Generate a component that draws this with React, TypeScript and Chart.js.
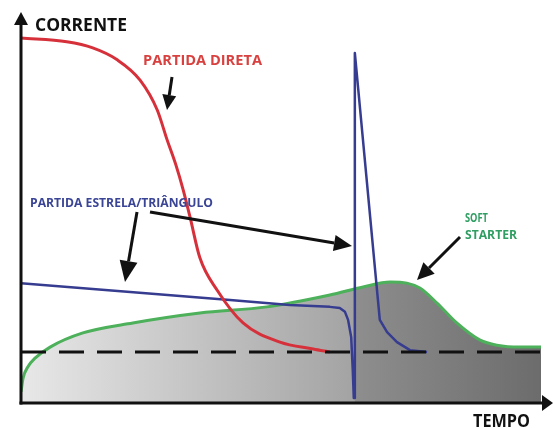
import React, { useEffect, useRef } from "react";
import { Chart, registerables } from "chart.js";

Chart.register(...registerables);

// Partida direta (red)
const redX = [0, 8.8, 13.8, 18.5, 22.9, 26.2, 28.1, 29.8, 31.2, 32.5, 34.4, 37.7, 42.7, 49.8, 56.2, 59.4];
const redY = [95.3, 94.3, 92.7, 89.6, 84.3, 76.5, 68.7, 62.1, 55.6, 48.6, 37.9, 29.5, 20.9, 15.9, 14.1, 13.3];

// Partida estrela/triângulo (blue)
const blueX = [0, 21.0, 40.2, 51.7, 59.4, 61.3, 62.3, 62.9, 63.5, 63.8, 64.0, 64.2, 64.2, 68.1, 68.7, 69.0, 70.4, 72.3, 74.8, 78.1];
const blueY = [31.3, 29.0, 26.9, 25.6, 25.1, 24.8, 23.8, 21.7, 17.2, 8.6, 1.3, 1.3, 91.4, 34.7, 26.1, 21.7, 18.5, 15.9, 13.8, 13.3];

// Soft starter (green)
const greenX = [0, 0.4, 1.3, 2.7, 5.6, 11.9, 21.5, 34.4, 47.3, 59.4, 65.8, 71.0, 74.2, 76.7, 80.0, 83.8, 88.3, 91.5, 96.0, 100];
const greenY = [2.9, 6.5, 9.4, 11.7, 14.6, 18.3, 20.9, 23.5, 25.1, 28.2, 30.3, 31.6, 31.3, 30.0, 26.1, 20.9, 16.4, 15.1, 14.6, 14.6];

// Corrente nominal (dashed)
const nominalX = [0, 100];
const nominalY = [13.3, 13.3];

const pts = (xs: number[], ys: number[]) => xs.map((x, i) => ({ x, y: ys[i] }));

function drawArrow(ctx: CanvasRenderingContext2D, x1: number, y1: number, x2: number, y2: number, len: number, half: number) {
  const ang = Math.atan2(y2 - y1, x2 - x1);
  const bx = x2 - Math.cos(ang) * len;
  const by = y2 - Math.sin(ang) * len;
  ctx.beginPath();
  ctx.moveTo(x1, y1);
  ctx.lineTo(bx, by);
  ctx.stroke();
  ctx.beginPath();
  ctx.moveTo(x2, y2);
  ctx.lineTo(bx + Math.sin(ang) * half, by - Math.cos(ang) * half);
  ctx.lineTo(bx - Math.sin(ang) * half, by + Math.cos(ang) * half);
  ctx.closePath();
  ctx.fill();
}

function fitText(ctx: CanvasRenderingContext2D, text: string, x: number, y: number, width: number, size: number, color: string) {
  ctx.save();
  ctx.font = `bold ${size}px "Open Sans", "Liberation Sans", sans-serif`;
  ctx.fillStyle = color;
  ctx.textBaseline = "alphabetic";
  ctx.textAlign = "left";
  const m = ctx.measureText(text).width;
  ctx.translate(x, y);
  ctx.scale(width / m, 1);
  ctx.fillText(text, 0, 0);
  ctx.restore();
}

const overlay = {
  id: "overlay",
  afterDraw(chart: any) {
    const ctx: CanvasRenderingContext2D = chart.ctx;
    const xs = chart.scales.x;
    const ys = chart.scales.y;
    const x0 = xs.getPixelForValue(0);
    const y0 = ys.getPixelForValue(0);
    ctx.save();
    ctx.strokeStyle = "#111";
    ctx.fillStyle = "#111";
    ctx.lineWidth = 3;
    ctx.lineCap = "butt";
    // axes
    drawArrow(ctx, x0, y0 + 1.5, x0, 12, 13, 7);
    drawArrow(ctx, x0 - 1.5, y0, 553, y0, 11, 8);
    // pointer arrows
    drawArrow(ctx, 172, 77, 167, 110, 15, 7);
    drawArrow(ctx, 137, 212, 125, 282, 21, 9);
    drawArrow(ctx, 150, 212, 352, 246, 18, 8);
    drawArrow(ctx, 460, 237, 417, 280, 17, 8);
    ctx.restore();

    fitText(ctx, "CORRENTE", 35, 31, 92, 17, "#111");
    fitText(ctx, "PARTIDA DIRETA", 143, 65, 119, 14, "#d8413f");
    fitText(ctx, "PARTIDA ESTRELA/TRIÂNGULO", 30, 207, 183, 12, "#3b4596");
    fitText(ctx, "SOFT", 465, 222, 23, 12, "#2f9e62");
    fitText(ctx, "STARTER", 465, 239, 52, 12, "#2f9e62");
    fitText(ctx, "TEMPO", 473, 427, 57, 18, "#111");
  },
};

export default function App() {
  const ref = useRef<HTMLCanvasElement | null>(null);
  useEffect(() => {
    if (!ref.current) return;
    const chart = new Chart(ref.current, {
      type: "line",
      data: {
        datasets: [
          {
            label: "Nominal",
            data: pts(nominalX, nominalY),
            borderColor: "#111",
            borderWidth: 3,
            borderDash: [25, 13],
            pointRadius: 0,
            fill: false,
            order: 0,
          },
          {
            label: "Partida direta",
            data: pts(redX, redY),
            borderColor: "#d6313b",
            borderWidth: 3,
            pointRadius: 0,
            cubicInterpolationMode: "monotone",
            fill: false,
            order: 1,
          },
          {
            label: "Partida estrela/triângulo",
            data: pts(blueX, blueY),
            borderColor: "#363c8f",
            borderWidth: 2.5,
            borderJoinStyle: "round",
            pointRadius: 0,
            tension: 0,
            fill: false,
            order: 2,
          },
          {
            label: "Soft starter",
            data: pts(greenX, greenY),
            borderColor: "#4db05a",
            borderWidth: 3,
            pointRadius: 0,
            cubicInterpolationMode: "monotone",
            fill: "origin",
            backgroundColor: (c: any) => {
              const a = c.chart.chartArea;
              if (!a) return "#aaa";
              const g = c.chart.ctx.createLinearGradient(a.left, 0, a.right, 0);
              g.addColorStop(0, "#e8e8e8");
              g.addColorStop(0.641, "#a3a3a3");
              g.addColorStop(0.643, "#8e8e8e");
              g.addColorStop(1, "#6c6c6c");
              return g;
            },
            order: 3,
          },
        ],
      },
      options: {
        animation: false,
        responsive: false,
        devicePixelRatio: 1,
        layout: { padding: { left: 21, right: 12, top: 20, bottom: 25 } },
        plugins: { legend: { display: false }, tooltip: { enabled: false } },
        scales: {
          x: { type: "linear", min: 0, max: 100, display: false },
          y: { type: "linear", min: 0, max: 100, display: false },
        },
      },
      plugins: [overlay],
    });
    return () => chart.destroy();
  }, []);
  return (
    <div style={{ position: "fixed", left: 0, top: 0, width: 553, height: 428, background: "#fff" }}>
      <canvas ref={ref} width={553} height={428} />
    </div>
  );
}
